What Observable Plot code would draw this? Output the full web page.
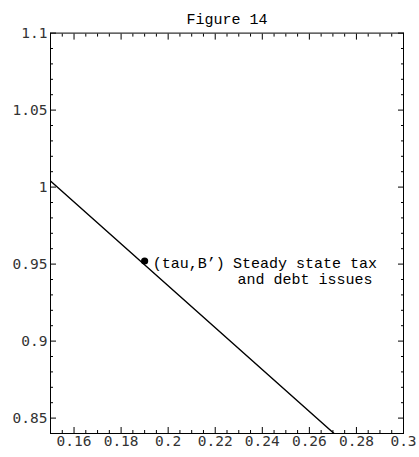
<!DOCTYPE html>
<html>
<head>
<meta charset="utf-8">
<script src="https://cdn.jsdelivr.net/npm/d3@7"></script>
<script src="https://cdn.jsdelivr.net/npm/@observablehq/plot@0.6"></script>
<style>
  html, body { margin: 0; padding: 0; background: #fff; }
  #chart svg { display: block; }
</style>
</head>
<body>
<div id="chart"></div>
<script>
const titleText = "Figure 14";
const lineTau = [0.15, 0.2705];
const lineB = [1.004, 0.84];
const pointTau = [0.19];
const pointB = [0.952];
const pointLabel = ["(tau,B’)"];
const noteTau = [0.2581];
const noteB = [0.9455];
const noteText = ["Steady state tax\nand debt issues"];
const xMajor = [0.16, 0.18, 0.2, 0.22, 0.24, 0.26, 0.28, 0.3];
const xMinor = [0.15, 0.155, 0.165, 0.17, 0.175, 0.185, 0.19, 0.195, 0.205, 0.21, 0.215, 0.225, 0.23, 0.235, 0.245, 0.25, 0.255, 0.265, 0.27, 0.275, 0.285, 0.29, 0.295];
const yMajor = [0.85, 0.9, 0.95, 1, 1.05, 1.1];
const yMinor = [0.84, 0.86, 0.87, 0.88, 0.89, 0.91, 0.92, 0.93, 0.94, 0.96, 0.97, 0.98, 0.99, 1.01, 1.02, 1.03, 1.04, 1.06, 1.07, 1.08, 1.09];

const lineData = lineTau.map((t, i) => ({tau: t, B: lineB[i]}));
const pointData = pointTau.map((t, i) => ({tau: t, B: pointB[i], label: pointLabel[i]}));
const noteData = noteTau.map((t, i) => ({tau: t, B: noteB[i], text: noteText[i]}));
const fmt = d => String(+d.toFixed(3));
const tickFont = {fontFamily: "DejaVu Sans Mono", fontSize: 14.5, fill: "#333"};

const chart = Plot.plot({
  width: 419,
  height: 457,
  marginLeft: 50,
  marginRight: 16,
  marginTop: 32.6,
  marginBottom: 24,
  x: {domain: [0.15, 0.3], axis: null},
  y: {domain: [0.84, 1.1], axis: null},
  style: {background: "#fff", overflow: "visible"},
  marks: [
    Plot.frame({stroke: "#000", strokeWidth: 1}),
    Plot.text(xMajor, {x: d => d, frameAnchor: "bottom", dy: 12.4, text: fmt, textAnchor: "middle", ...tickFont}),
    Plot.text(yMajor, {y: d => d, frameAnchor: "left", dx: -3, text: fmt, textAnchor: "end", ...tickFont}),
    Plot.axisX({anchor: "bottom", ticks: xMajor, text: null, tickSize: -6, label: null, stroke: "#000"}),
    Plot.axisX({anchor: "top", ticks: xMajor, text: null, tickSize: -6, label: null, stroke: "#000"}),
    Plot.axisX({anchor: "bottom", ticks: xMinor, text: null, tickSize: -3, label: null, stroke: "#000"}),
    Plot.axisX({anchor: "top", ticks: xMinor, text: null, tickSize: -3, label: null, stroke: "#000"}),
    Plot.axisY({anchor: "left", ticks: yMajor, text: null, tickSize: -6, label: null, stroke: "#000"}),
    Plot.axisY({anchor: "right", ticks: yMajor, text: null, tickSize: -6, label: null, stroke: "#000"}),
    Plot.axisY({anchor: "left", ticks: yMinor, text: null, tickSize: -3, label: null, stroke: "#000"}),
    Plot.axisY({anchor: "right", ticks: yMinor, text: null, tickSize: -3, label: null, stroke: "#000"}),
    Plot.line(lineData, {x: "tau", y: "B", stroke: "#000", strokeWidth: 1.4, clip: true}),
    Plot.dot(pointData, {x: "tau", y: "B", r: 3.6, fill: "#000", stroke: null}),
    Plot.text(pointData, {x: "tau", y: "B", text: "label", textAnchor: "start", dx: 8, dy: 2, fontFamily: "Liberation Mono", fontSize: 15, fill: "#000"}),
    Plot.text(noteData, {x: "tau", y: "B", text: "text", textAnchor: "middle", lineHeight: 1.07, fontFamily: "Liberation Mono", fontSize: 15, fill: "#000"}),
    Plot.text([titleText], {frameAnchor: "top", text: d => d, dy: -19.4, textAnchor: "middle", fontFamily: "Liberation Mono", fontSize: 15, fill: "#000"})
  ]
});
document.getElementById("chart").appendChild(chart);
</script>
</body>
</html>
